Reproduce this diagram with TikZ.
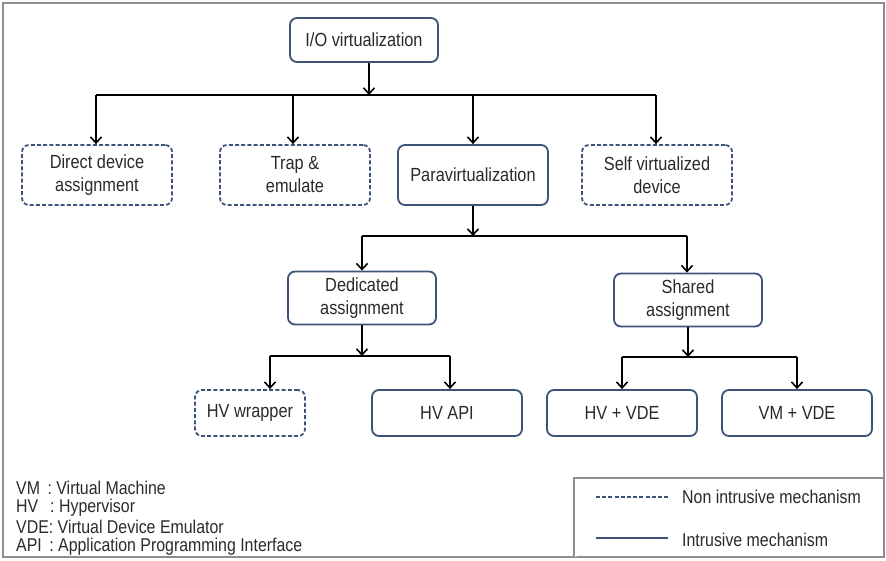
\documentclass[tikz,border=0pt]{standalone}
\usepackage{fontspec}
\setmainfont{Liberation Sans}[FakeStretch=0.86]
\usetikzlibrary{arrows.meta}
\definecolor{boxline}{HTML}{3E5378}
\definecolor{txt}{HTML}{2A2A2A}
\definecolor{frame}{HTML}{8A8F96}
\tikzset{
  solidbox/.style={draw=boxline, line width=1.8pt, rounded corners=7pt, fill=white,
    minimum width=#1, minimum height=50pt, align=center, text=txt,
    font=\fontsize{19}{23}\selectfont, inner sep=2pt},
  solidbox/.default=150pt,
  dashbox/.style={solidbox=#1, dash pattern=on 4pt off 2.2pt},
  dashbox/.default=150pt,
  conn/.style={line width=2pt, black},
  arr/.style={conn, -{Straight Barb[length=6pt,width=11pt,line width=1.6pt]}},
  legtext/.style={anchor=west, text=txt, font=\fontsize{18.5}{22}\selectfont, inner sep=0pt}
}
\begin{document}
\begin{tikzpicture}[x=1pt, y=-1pt]
  \useasboundingbox (0,0) rectangle (886,560);
  % outer frame
  \draw[frame, line width=1.5pt] (3,3) rectangle (884,557);

  % level 0
  \node[solidbox=148pt, minimum height=44pt] (io) at (364,40) {I/O virtualization};

  % level 1
  \node[dashbox, minimum height=60pt] (dda) at (97,175) {Direct device\\assignment};
  \node[dashbox, minimum height=60pt] (trap) at (295,175) {Trap \&\\emulate};
  \node[solidbox, minimum height=60pt] (para) at (473,175) {Paravirtualization};
  \node[dashbox, minimum height=60pt] (svd) at (657,175) {Self virtualized\\device};

  % level 2
  \node[solidbox=148pt, minimum height=53pt] (ded) at (362,298) {Dedicated\\assignment};
  \node[solidbox=148pt, minimum height=53pt] (shr) at (688,300) {Shared\\assignment};

  % level 3
  \node[dashbox=110pt, minimum height=46pt] (wrap) at (250,413) {HV wrapper};
  \node[solidbox, minimum height=46pt] (api) at (447,413) {HV API};
  \node[solidbox, minimum height=46pt] (hvvde) at (622,413) {HV + VDE};
  \node[solidbox, minimum height=46pt] (vmvde) at (797,413) {VM + VDE};

  % bus coordinates
  \coordinate (b0) at (369,95);
  \coordinate (b1) at (473,236);
  \coordinate (b2) at (362,356);
  \coordinate (b3) at (688,357);

  % connectors: root to level 1
  \draw[arr] (io.south -| b0) -- (b0);
  \draw[conn] (96,95) -- (656,95);
  \draw[arr] (96,95) -- (dda.north -| 96,0);
  \draw[arr] (293,95) -- (trap.north -| 293,0);
  \draw[arr] (473,95) -- (para.north);
  \draw[arr] (656,95) -- (svd.north -| 656,0);

  % paravirtualization to level 2
  \draw[arr] (para.south) -- (b1);
  \draw[conn] (362,236) -- (687,236);
  \draw[arr] (362,236) -- (ded.north);
  \draw[arr] (687,236) -- (shr.north -| 687,0);

  % dedicated to level 3
  \draw[arr] (ded.south) -- (b2);
  \draw[conn] (270,356) -- (450,356);
  \draw[arr] (270,356) -- (wrap.north -| 270,0);
  \draw[arr] (450,356) -- (api.north -| 450,0);

  % shared to level 3
  \draw[arr] (shr.south) -- (b3);
  \draw[conn] (622,357) -- (797,357);
  \draw[arr] (622,357) -- (hvvde.north);
  \draw[arr] (797,357) -- (vmvde.north);

  % abbreviations
  \node[legtext] (ab1) at (16,488) {VM \,: Virtual Machine};
  \node[legtext] (ab2) at (16,508) {HV \ \,: Hypervisor};
  \node[legtext] (ab3) at (16,527) {VDE: Virtual Device Emulator};
  \node[legtext] (ab4) at (16,547) {API \,: Application Programming Interface};

  % line-style key
  \draw[frame, line width=1.2pt, fill=white] (574,557) -- (574,478) -- (884,478);
  \coordinate (k1a) at (596,497);
  \coordinate (k1b) at (668,497);
  \coordinate (k2a) at (596,538);
  \coordinate (k2b) at (668,538);
  \draw[boxline, line width=1.6pt, dash pattern=on 4pt off 2.2pt] (k1a) -- (k1b);
  \draw[boxline, line width=1.8pt] (k2a) -- (k2b);
  \node[legtext] (k1t) at (682,497) {Non intrusive mechanism};
  \node[legtext] (k2t) at (682,540) {Intrusive mechanism};
\end{tikzpicture}
\end{document}
